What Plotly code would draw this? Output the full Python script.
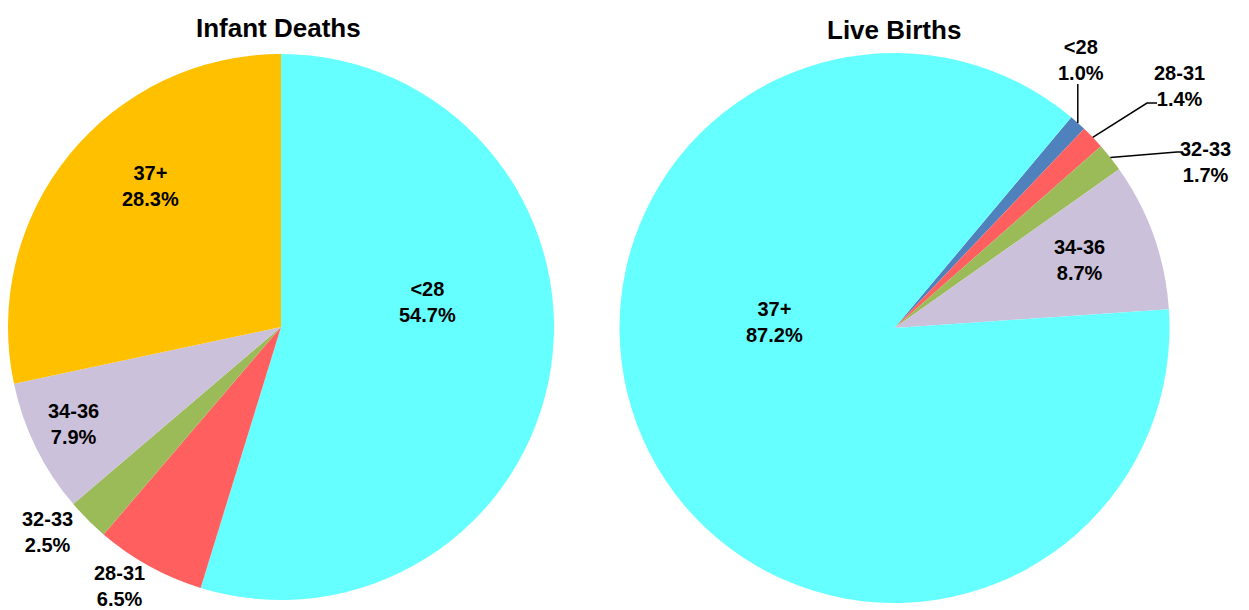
import math
import plotly.graph_objects as go

# gestational age groups (weeks)
groups = ['<28', '28-31', '32-33', '34-36', '37+']
infant_deaths_pct = [54.7, 6.5, 2.5, 7.9, 28.3]
live_births_pct = [1.0, 1.4, 1.7, 8.7, 87.2]

colors = ['#66FFFF', '#FF5F5F', '#9BBB59', '#CCC1DA', '#FFC000']
colors_births = ['#4F81BD', '#FF5F5F', '#9BBB59', '#CCC1DA', '#66FFFF']

W, H = 1249, 610
FAMILY = 'Liberation Sans, Arial, sans-serif'

# pie geometry in pixels (centre x, centre y, radius) and start rotation
LEFT = (281, 327, 273, 0)
RIGHT = (894.5, 328, 275, 40)

# label centres in pixels, one per group
left_label_pos = [(428, 302), (119, 586), (47, 532), (73, 424), (150, 186)]
right_label_pos = [(1081, 60), (1179, 86), (1205, 162), (1079, 260), (774, 322)]
# leader line elbows for the small outside slices on the right pie (None = straight up)
right_elbows = [None, ((1147, 103), (1157, 103)), ((1177, 152), (1183, 152))]


def px(x, y):
    return x / W, 1 - y / H


def dom(cx, cy, r):
    return dict(x=[(cx - r) / W, (cx + r) / W],
                y=[(H - cy - r) / H, (H - cy + r) / H])


def edge_point(values, i, geo):
    # point on the rim at the middle of slice i (clockwise from 12 o'clock + rotation)
    cx, cy, r, rot = geo
    total = sum(values)
    start = sum(values[:i])
    ang = math.radians(rot + 360 * (start + values[i] / 2) / total)
    return cx + r * math.sin(ang), cy - r * math.cos(ang)


fig = go.Figure()
for values, cols, geo in [(infant_deaths_pct, colors, LEFT), (live_births_pct, colors_births, RIGHT)]:
    fig.add_trace(go.Pie(
        labels=groups, values=values, textinfo='none', sort=False,
        direction='clockwise', rotation=geo[3],
        marker=dict(colors=cols, line=dict(width=0)),
        domain=dom(*geo[:3]), showlegend=False, hoverinfo='label+percent',
    ))

label_font = dict(family=FAMILY, size=20, color='black')
for values, positions in [(infant_deaths_pct, left_label_pos), (live_births_pct, right_label_pos)]:
    for g, v, (x, y) in zip(groups, values, positions):
        ax, ay = px(x, y)
        fig.add_annotation(text=f'<b>{g}<br>{v:.1f}%</b>', x=ax, y=ay, xref='paper', yref='paper',
                           xanchor='center', yanchor='middle',
                           showarrow=False, font=label_font, align='center')

# leader lines
for i, elbow in enumerate(right_elbows):
    ex, ey = edge_point(live_births_pct, i, RIGHT)
    pts = [(ex, ey)]
    if elbow is None:
        pts.append((ex, 84))
    else:
        pts.extend(elbow)
    path = 'M ' + ' L '.join(f'{px(x, y)[0]:.5f},{px(x, y)[1]:.5f}' for x, y in pts)
    fig.add_shape(type='path', path=path, xref='paper', yref='paper',
                  line=dict(color='black', width=1.5))

title_font = dict(family=FAMILY, size=26, color='black')
for text, x, y in [('Infant Deaths', 278, 28), ('Live Births', 894, 30)]:
    tx, ty = px(x, y)
    fig.add_annotation(text=f'<b>{text}</b>', x=tx, y=ty, xref='paper', yref='paper',
                       xanchor='center', yanchor='middle',
                       showarrow=False, font=title_font)

fig.update_layout(width=W, height=H, margin=dict(l=0, r=0, t=0, b=0),
                  paper_bgcolor='white', plot_bgcolor='white')
fig.write_html('out.html', config={'displayModeBar': False},
               post_script="document.body.style.margin='0';")
